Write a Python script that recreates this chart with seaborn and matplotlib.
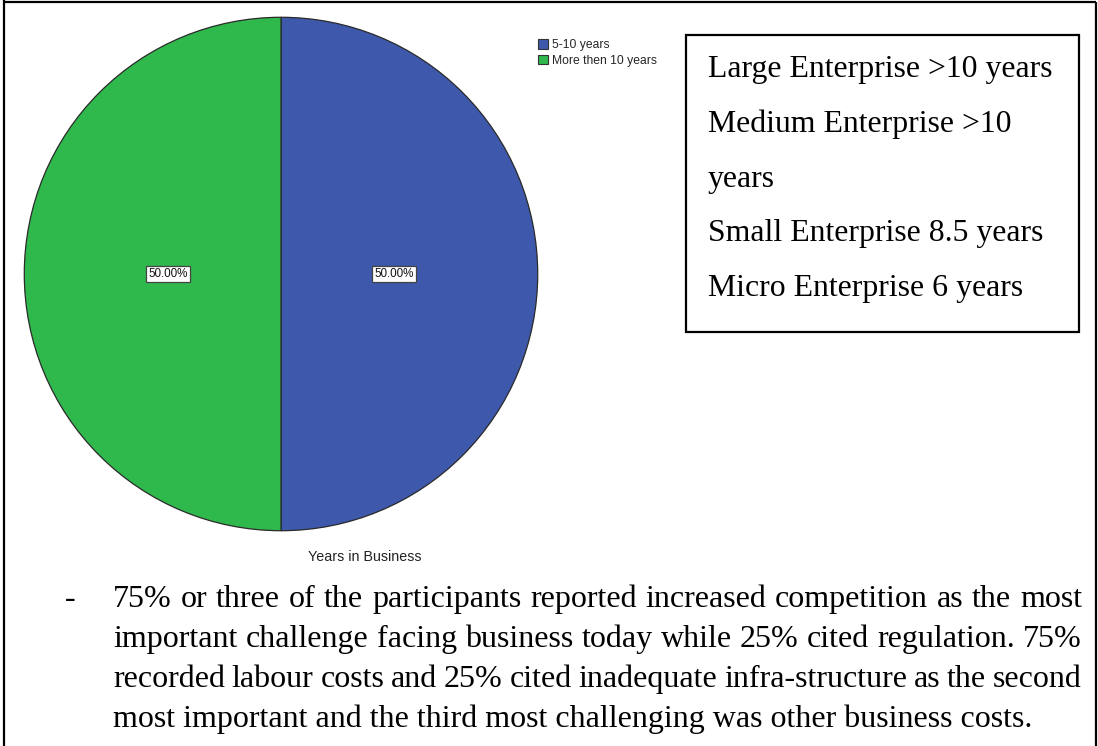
#!/usr/bin/env python3
"""Years in Business pie chart, recreated as a document snippet."""

import matplotlib
matplotlib.use("Agg")
import matplotlib.pyplot as plt
from matplotlib.patches import Rectangle
import seaborn as sns

# data
categories = ["5-10 years", "More then 10 years"]
shares = [50.0, 50.0]
chart_title = "Years in Business"

box_lines = [
    "Large Enterprise >10 years",
    "Medium Enterprise >10",
    "years",
    "Small Enterprise 8.5 years",
    "Micro Enterprise 6 years",
]

para_lines = [
    "75% or three of the participants reported increased competition as the most",
    "important challenge facing business today while 25% cited regulation. 75%",
    "recorded labour costs and 25% cited inadequate infra-structure as the second",
    "most important and the third most challenging was other business costs.",
]

W, H = 1098, 746
SERIF = ["Liberation Serif", "DejaVu Serif"]
SANS = ["Liberation Sans", "DejaVu Sans"]

sns.set_theme(style="white")
plt.rcParams["font.family"] = SANS
colors = sns.color_palette(["#3e58ab", "#2fb84b"])

fig = plt.figure(figsize=(W / 100, H / 100), dpi=100)

# overlay in pixel coordinates for the document parts
ov = fig.add_axes([0, 0, 1, 1])
ov.set_xlim(0, W)
ov.set_ylim(H, 0)
ov.axis("off")

# pie
pax = fig.add_axes([23 / W, (H - 532) / H, 516 / W, 516 / H])
wedges, texts, autotexts = pax.pie(
    shares,
    colors=colors,
    startangle=90,
    counterclock=False,
    autopct="%.2f%%",
    pctdistance=0.44,
    wedgeprops=dict(edgecolor="#2a2a2a", linewidth=0.9),
    textprops=dict(fontsize=8.4, color="#111111", family=SANS),
)
for t in autotexts:
    t.set_bbox(dict(boxstyle="square,pad=0.18", fc="white", ec="#444444", lw=0.9))
pax.set_xlim(-1.005, 1.005)
pax.set_ylim(-1.005, 1.005)
pax.set_aspect("equal")

fig.legend(
    wedges, categories,
    loc="upper left", bbox_to_anchor=(538 / W, 1 - 39 / H),
    frameon=False, fontsize=8.7,
    handlelength=0.85, handleheight=0.85, handletextpad=0.3,
    labelspacing=0.3, borderpad=0, borderaxespad=0,
)
for h in fig.legends[0].legend_handles:
    h.set_edgecolor("#333333")
    h.set_linewidth(0.8)

ov.text(365, 557, chart_title, ha="center", va="center", fontsize=10.3,
        color="#222222", family=SANS)

# page borders
ov.plot([3.5, 3.5], [0, H], color="black", lw=1.6, solid_capstyle="butt")
ov.plot([3.5, 1096], [1.5, 1.5], color="black", lw=1.6, solid_capstyle="butt")
ov.plot([1096, 1096], [1.5, H], color="black", lw=1.6, solid_capstyle="butt")

# text box
ov.add_patch(Rectangle((686, 35), 393, 297, fill=False, ec="black", lw=1.6))

renderer = fig.canvas.get_renderer()


def text_width(s, fs):
    t = ov.text(0, 0, s, fontsize=fs, family=SERIF)
    w = t.get_window_extent(renderer).width
    t.remove()
    return w


box_fs = 20 * 345 / text_width(box_lines[0], 20)
for s, yb in zip(box_lines, [77, 132, 187, 241, 296]):
    ov.text(708, yb, s, ha="left", va="baseline", fontsize=box_fs,
            family=SERIF, color="black")

para_fs = 20 * 918 / text_width(para_lines[-1], 20)
x0, x1 = 113, 1082
baselines = [607, 647, 687, 727]
ov.text(65, baselines[0], "-", ha="left", va="baseline", fontsize=para_fs,
        family=SERIF, color="black")
for i, (s, yb) in enumerate(zip(para_lines, baselines)):
    if i == len(para_lines) - 1:
        ov.text(x0, yb, s, ha="left", va="baseline", fontsize=para_fs,
                family=SERIF, color="black")
        continue
    words = s.split(" ")
    widths = [text_width(w, para_fs) for w in words]
    gap = (x1 - x0 - sum(widths)) / (len(words) - 1)
    x = x0
    for w, wd in zip(words, widths):
        ov.text(x, yb, w, ha="left", va="baseline", fontsize=para_fs,
                family=SERIF, color="black")
        x += wd + gap

fig.savefig("out.png", dpi=100)
plt.close(fig)
